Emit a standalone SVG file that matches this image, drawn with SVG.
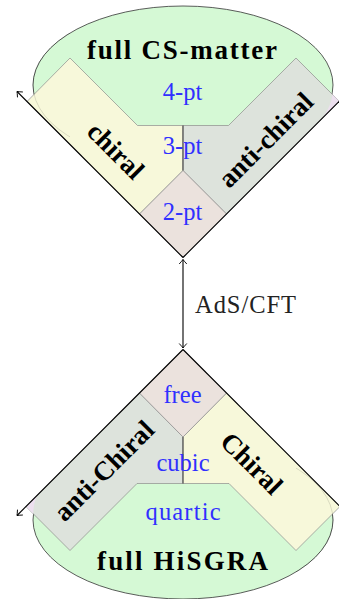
<svg xmlns="http://www.w3.org/2000/svg" width="339" height="599" viewBox="0 0 339 599">
<defs>
<style>
.el{fill:#d5f9d5;stroke:#333;stroke-width:0.8}
.elo{fill:none;stroke:#000;stroke-opacity:0.15;stroke-width:0.8}
.yel{fill:#f7f8da;stroke:#8c8c8c;stroke-width:0.7}
.gry{fill:#dde3dc;stroke:#8c8c8c;stroke-width:0.7}
.pnk{fill:#ebe2dd;stroke:#8c8c8c;stroke-width:0.7}
.lil{fill:#ede0ef}
.div{stroke:#444;stroke-width:1;fill:none}
.cone{stroke:#000;stroke-width:1.1;fill:none}
text{font-family:"Liberation Serif","Times New Roman",serif}
.b{font-weight:bold;font-size:27px;fill:#000}
.ti{font-weight:bold;font-size:27px;fill:#000;text-anchor:middle}
.lb{font-size:24.5px;fill:#3030ff;text-anchor:middle}
.rg{font-size:24.5px;fill:#222}
</style>
<clipPath id="tipTL"><rect x="0" y="0" width="70" height="300"/></clipPath>
<clipPath id="tipBR"><rect x="296" y="300" width="50" height="299"/></clipPath>
<marker id="to" viewBox="-6 -5 8 10" markerWidth="8" markerHeight="10" refX="0" refY="0" orient="auto-start-reverse" markerUnits="userSpaceOnUse">
<path d="M-4.5,-3.8 Q-1.2,-0.8 0,0 Q-1.2,0.8 -4.5,3.8" fill="none" stroke="#000" stroke-width="0.9"/>
</marker>
</defs>
<rect width="339" height="599" fill="#fff"/>

<!-- top diagram -->
<g id="cs-matter">
<ellipse class="el" cx="183" cy="85" rx="150" ry="79"/>
</g>
<g id="chiral">
<polygon class="yel" points="70,58 137.5,125.5 183,125.5 183,170.5 139.5,214 27,101.5"/>
</g>
<g id="anti-chiral">
<polygon class="gry" points="296,58 228.5,125.5 183,125.5 183,170.5 226.5,214 339.5,101.5"/>
<path class="lil" d="M332.5,94.5 L339.5,101.5 L322.5,118 A150,79 0 0,0 332.5,94.5 Z"/>
</g>
<g id="two-pt">
<polygon class="pnk" points="183,170.5 226.5,214 183,257.5 139.5,214"/>
</g>
<ellipse class="elo" cx="183" cy="85" rx="150" ry="79" clip-path="url(#tipTL)"/>
<line class="div" x1="183" y1="125.5" x2="183" y2="170.5"/>

<!-- bottom diagram -->
<g id="hisgra">
<ellipse class="el" cx="183" cy="520" rx="150" ry="79"/>
</g>
<g id="anti-Chiral">
<polygon class="gry" points="70,550.5 137,483.5 183,483.5 183,437 139.5,393 26,506.5"/>
<path class="lil" d="M26,506.5 L37,495.5 A150,79 0 0,0 33.3,513.8 Z"/>
</g>
<g id="Chiral">
<polygon class="yel" points="296,550.5 229,483.5 183,483.5 183,437 226.5,393 340,506.5"/>
</g>
<g id="free">
<polygon class="pnk" points="183,349.5 226.5,393 183,437 139.5,393"/>
</g>
<ellipse class="elo" cx="183" cy="520" rx="150" ry="79" clip-path="url(#tipBR)"/>
<line class="div" x1="183" y1="437" x2="183" y2="483.5"/>

<!-- connectors -->
<g id="connectors">
<path class="cone" d="M183,257.5 L17,91.5" marker-end="url(#to)"/>
<path class="cone" d="M183,257.5 L345,95.5"/>
<path class="cone" d="M183,349.5 L17,515.5" marker-end="url(#to)"/>
<path class="cone" d="M183,349.5 L345,511.5"/>
<path class="cone" d="M183,259.5 L183,348" marker-start="url(#to)" marker-end="url(#to)"/>
</g>

<!-- labels -->
<g id="labels">
<text class="ti" x="182" y="59" textLength="190" lengthAdjust="spacing">full CS-matter</text>
<text class="lb" x="182.5" y="100">4-pt</text>
<text class="lb" x="182.5" y="153.5">3-pt</text>
<text class="lb" x="182.5" y="220">2-pt</text>
<text class="b" transform="translate(115.8,150.8) rotate(45)" x="0" y="9" text-anchor="middle">chiral</text>
<text class="b" transform="translate(265.8,140) rotate(-45)" x="0" y="9" text-anchor="middle">anti-chiral</text>
<text class="rg" x="195" y="312.5" textLength="101" lengthAdjust="spacing">AdS/CFT</text>
<text class="lb" x="182.5" y="403">free</text>
<text class="lb" x="183" y="471">cubic</text>
<text class="lb" x="183" y="520" textLength="75" lengthAdjust="spacing">quartic</text>
<text class="ti" x="182.5" y="570" textLength="171" lengthAdjust="spacing">full HiSGRA</text>
<text class="b" transform="translate(104,470.8) rotate(-45)" x="0" y="9" text-anchor="middle">anti-Chiral</text>
<text class="b" transform="translate(251.7,463.3) rotate(45)" x="0" y="9" text-anchor="middle">Chiral</text>
</g>
</svg>
